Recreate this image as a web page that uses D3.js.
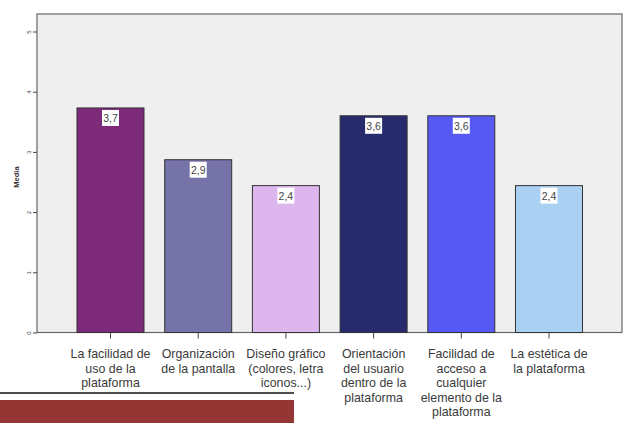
<!DOCTYPE html>
<html><head><meta charset="utf-8">
<script src="https://cdn.jsdelivr.net/npm/d3@7"></script>
<style>body{margin:0;background:#fff;}svg{display:block;}</style>
</head><body>
<svg id="c" width="626" height="423"></svg>
<script>
const categories = [
  ["La facilidad de","uso de la","plataforma"],
  ["Organización","de la pantalla"],
  ["Diseño gráfico","(colores, letra","iconos...)"],
  ["Orientación","del usuario","dentro de la","plataforma"],
  ["Facilidad de","acceso a","cualquier","elemento de la","plataforma"],
  ["La estética de","la plataforma"]
];
const values = [3.73, 2.87, 2.44, 3.6, 3.6, 2.44];
const valueLabels = ["3,7","2,9","2,4","3,6","3,6","2,4"];
const barColors = ["#7E2A7B","#7673A8","#DDB6EE","#272B6E","#5659F4","#AAD0F2"];
const yTicks = [0,1,2,3,4,5];
const yTitle = "Media";

const svg = d3.select("#c");
const L = 37, R = 622, T = 14, B = 332.5;
const y = d3.scaleLinear().domain([0,5]).range([B, B - 5*60.2]);
const x = d3.scaleBand().domain(d3.range(categories.length)).range([56.3, 603.2]).paddingInner(0.236).paddingOuter(0.236);

svg.append("rect").attr("x",L).attr("y",T).attr("width",R-L).attr("height",B-T)
  .attr("fill","#EFEFEF").attr("stroke","#666").attr("stroke-width",1.2);

svg.selectAll("rect.bar").data(values).enter().append("rect").attr("class","bar")
  .attr("x",(d,i)=>x(i)).attr("y",d=>y(d)).attr("width",x.bandwidth()).attr("height",d=>B-y(d))
  .attr("fill",(d,i)=>barColors[i]).attr("stroke","#333").attr("stroke-width",1);

// value labels
const lg = svg.selectAll("g.vl").data(values).enter().append("g").attr("class","vl")
  .attr("transform",(d,i)=>`translate(${x(i)+x.bandwidth()/2},${y(d)})`);
lg.append("rect").attr("x",-8.5).attr("y",2).attr("width",17).attr("height",16).attr("fill","#fff");
lg.append("text").attr("y",14).attr("text-anchor","middle").attr("font-family","Liberation Sans, Arial, sans-serif")
  .attr("font-size",10.5).attr("fill","#444").text((d,i)=>valueLabels[i]);

// y axis
const ya = svg.append("g").attr("transform",`translate(${L},0)`)
  .call(d3.axisLeft(y).tickValues(yTicks).tickSize(4).tickFormat(d3.format("d")));
ya.select(".domain").remove();
ya.selectAll("line").attr("stroke","#444");
ya.selectAll("text").attr("font-family","Liberation Sans, Arial, sans-serif").attr("font-size",6).attr("fill","#444")
  .each(function(){
    d3.select(this).attr("x",null).attr("text-anchor","middle")
     .attr("transform","translate(-8,0) rotate(-90)").attr("dy","0.35em");
  });

svg.append("text").attr("transform",`translate(19,177) rotate(-90)`).attr("text-anchor","middle")
  .attr("font-family","Liberation Sans, Arial, sans-serif").attr("font-size",7.5).attr("font-weight","bold").attr("fill","#333").text(yTitle);

// x axis
const xa = svg.append("g").attr("transform",`translate(0,${B})`)
  .call(d3.axisBottom(x).tickSize(6).tickFormat(""));
xa.select(".domain").remove();
xa.selectAll("line").attr("stroke","#444");

const cl = svg.selectAll("text.cat").data(categories).enter().append("text").attr("class","cat")
  .attr("text-anchor","middle").attr("font-family","Liberation Sans, Arial, sans-serif").attr("font-size",12.4).attr("fill","#3a3a3a")
  .attr("transform",(d,i)=>`translate(${x(i)+x.bandwidth()/2},358)`);
cl.selectAll("tspan").data(d=>d).enter().append("tspan").attr("x",0).attr("dy",(d,j)=>j===0?0:14.5).text(d=>d);

// decorative footer
svg.append("line").attr("x1",0).attr("x2",294).attr("y1",393).attr("y2",393).attr("stroke","#111").attr("stroke-width",1.5);
svg.append("rect").attr("x",0).attr("y",400).attr("width",294).attr("height",23).attr("fill","#943634");
</script>
</body></html>
